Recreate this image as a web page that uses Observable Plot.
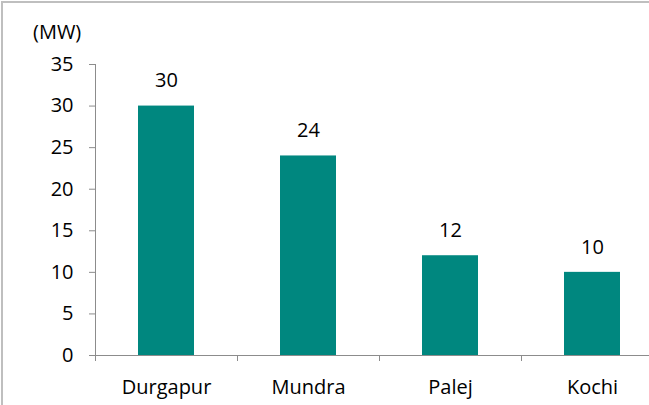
<!DOCTYPE html>
<html>
<head>
<meta charset="utf-8">
<script src="https://cdn.jsdelivr.net/npm/d3@7"></script>
<script src="https://cdn.jsdelivr.net/npm/@observablehq/plot@0.6"></script>
<style>
  html, body { margin: 0; padding: 0; background: #fff; overflow: hidden; }
  #wrap { position: relative; width: 649px; height: 405px; overflow: hidden; }
  #border { position: absolute; left: 1px; top: 1px; width: 700px; height: 500px;
            border-top: 2px solid #bfbfbf; border-left: 2px solid #bfbfbf; pointer-events: none; }
  #unit { position: absolute; left: 33px; top: 18px; font: 20px "Open Sans", sans-serif; color: #000; }
  #chart { position: absolute; left: 0; top: 0; }
</style>
</head>
<body>
<div id="wrap">
  <div id="chart"></div>
  <div id="unit">(MW)</div>
  <div id="border"></div>
</div>
<script>
const categories = ["Durgapur", "Mundra", "Palej", "Kochi"];
const values = [30, 24, 12, 10];
const yTicks = [0, 5, 10, 15, 20, 25, 30, 35];
const unitLabel = "(MW)";

const data = categories.map((c, i) => ({ site: c, mw: values[i] }));
const teal = "#00877F";
const axisGray = "#8c8c8c";
const font = "\"Open Sans\", sans-serif";

const chart = Plot.plot({
  width: 649,
  height: 405,
  marginLeft: 95,
  marginRight: 0,
  marginTop: 64,
  marginBottom: 50,
  style: { fontFamily: font, fontSize: "20px", color: "#000", background: "transparent" },
  x: { type: "band", domain: categories, range: [95, 663], padding: 0, label: null },
  y: { domain: [0, 35], label: null },
  marks: [
    Plot.barY(data, { x: "site", y: "mw", fill: teal, insetLeft: 43, insetRight: 43 }),
    Plot.text(data, { x: "site", y: "mw", text: d => String(d.mw), dy: -25, fontSize: 20, fill: "#000" }),
    Plot.frame({ anchor: "left", stroke: axisGray }),
    Plot.ruleY([0], { stroke: axisGray }),
    Plot.axisY({ ticks: yTicks, tickSize: 6, tickPadding: 16, stroke: axisGray, fill: "#000", fontSize: 20, label: null }),
    Plot.axisX({ tickSize: 0, tickPadding: 24, fill: "#000", fontSize: 20, label: null }),
    Plot.axisX({ tickSize: 6, dx: -71, text: null, stroke: axisGray, label: null })
  ]
});
document.getElementById("chart").appendChild(chart);
document.getElementById("unit").textContent = unitLabel;
</script>
</body>
</html>
